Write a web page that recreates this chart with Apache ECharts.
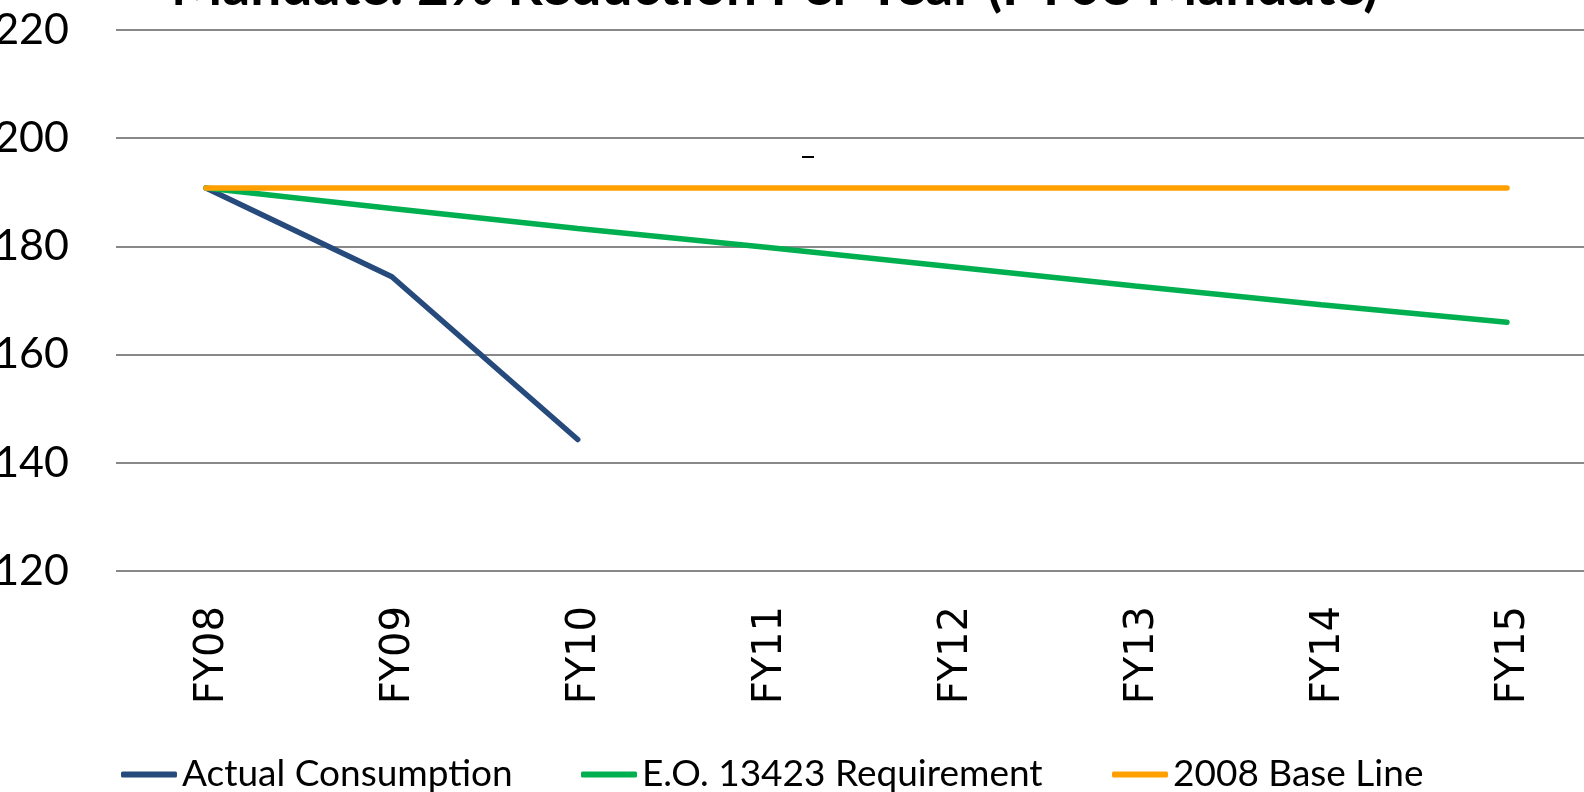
<!DOCTYPE html>
<html><head><meta charset="utf-8">
<script src="https://cdn.jsdelivr.net/npm/echarts@6/dist/echarts.min.js"></script>
<style>html,body{margin:0;padding:0;background:#fff}#c{width:1584px;height:792px}</style>
</head><body><div id="c"></div>
<script>
const titleText = 'Mandate: 2% Reduction Per Year (FY08 Mandate)';
const categories = ['FY08','FY09','FY10','FY11','FY12','FY13','FY14','FY15'];
const actualConsumption = [190.8, 174.4, 144.3, null, null, null, null, null];
const eoRequirement = [190.8, 187.0, 183.3, 179.9, 176.3, 172.7, 169.2, 166.0];
const baseLine2008 = [190.8, 190.8, 190.8, 190.8, 190.8, 190.8, 190.8, 190.8];
const seriesNames = ['Actual Consumption', 'E.O. 13423 Requirement', '2008 Base Line'];
const yTicks = {min: 120, max: 220, interval: 20};

const chart = echarts.init(document.getElementById('c'), null, {renderer:'canvas'});
const lineStyle = (c) => ({color: c, width: 5.5, cap: 'round'});
const legendText = {fontFamily: 'Lato', fontSize: 37, color: '#000'};
const mkLegend = (name, left) => ({
  top: 756, left: left, padding: 0, itemWidth: 56, itemHeight: 6, icon: 'roundRect',
  textStyle: legendText, data: [name]
});
chart.setOption({
  animation: false,
  backgroundColor: '#ffffff',
  title: {
    text: titleText, left: 166, top: -45,
    textStyle: {fontFamily: 'Lato', fontWeight: 'bold', fontSize: 55, color: '#000'}
  },
  graphic: [{type:'rect', shape:{x:802,y:156,width:12,height:2}, style:{fill:'#000'}}],
  legend: [mkLegend(seriesNames[0], 121), mkLegend(seriesNames[1], 581), mkLegend(seriesNames[2], 1112)],
  grid: [
    {left: 116, top: 30, right: 0, height: 541, containLabel: false, outerBoundsMode: 'none'},
    {left: 206, top: 30, right: 77, height: 541, containLabel: false, outerBoundsMode: 'none'}
  ],
  xAxis: [
    {gridIndex: 0, type: 'category', data: categories, show: false},
    {gridIndex: 1, type: 'category', data: categories, boundaryGap: false,
     axisLine: {show: false}, axisTick: {show: false}, splitLine: {show: false},
     axisLabel: {rotate: 90, margin: 35, verticalAlign: 'top', lineHeight: 14, fontFamily: 'DejaVu Sans', fontSize: 40, color: '#000'}}
  ],
  yAxis: [
    {gridIndex: 0, type: 'value', min: yTicks.min, max: yTicks.max, interval: yTicks.interval,
     axisLine: {show: false}, axisTick: {show: false},
     axisLabel: {margin: 47, fontFamily: 'Lato', fontSize: 43, color: '#000'},
     splitLine: {lineStyle: {color: '#888888', width: 2}}},
    {gridIndex: 1, type: 'value', min: yTicks.min, max: yTicks.max, interval: yTicks.interval,
     axisLine: {show: false}, axisTick: {show: false}, axisLabel: {show: false}, splitLine: {show: false}}
  ],
  series: [
    {name: seriesNames[0], type: 'line', xAxisIndex: 1, yAxisIndex: 1, data: actualConsumption, symbol: 'none', lineStyle: lineStyle('#264a7c'), itemStyle:{color:'#264a7c'}},
    {name: seriesNames[1], type: 'line', xAxisIndex: 1, yAxisIndex: 1, data: eoRequirement, symbol: 'none', lineStyle: lineStyle('#00b050'), itemStyle:{color:'#00b050'}},
    {name: seriesNames[2], type: 'line', xAxisIndex: 1, yAxisIndex: 1, data: baseLine2008, symbol: 'none', lineStyle: lineStyle('#ffa000'), itemStyle:{color:'#ffa000'}}
  ]
});
</script></body></html>
